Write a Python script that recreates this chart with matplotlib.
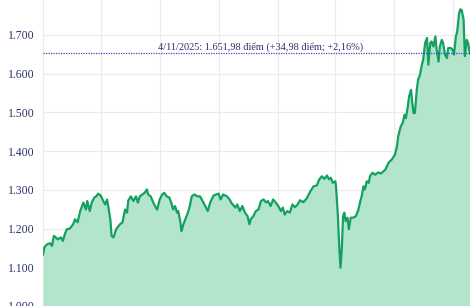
import pandas as pd
import matplotlib
matplotlib.use("Agg")
import matplotlib.pyplot as plt
import matplotlib.dates as mdates

# VN-Index closes (days counted from 1/1/2024)
days = [0, 2, 6, 11, 14, 17, 20, 23, 28, 31, 34, 37, 42, 47, 50, 54, 58, 63, 67, 69,
        73, 76, 80, 83, 86, 90, 94, 97, 100, 105, 107, 110, 114, 120, 124, 128, 131, 133,
        137, 141, 145, 148, 151, 155, 159, 162, 164, 168, 172, 176, 178, 182, 186, 189,
        193, 197, 200, 203, 206, 209, 211, 214, 216, 219, 222, 226, 229, 232, 236, 241,
        245, 249, 253, 257, 261, 266, 270, 274, 277, 281, 287, 291, 294, 300, 303, 307,
        311, 315, 319, 322, 324, 328, 332, 336, 340, 344, 348, 351, 355, 359, 363, 367,
        371, 374, 377, 381, 385, 389, 393, 397, 401, 406, 411, 417, 422, 427, 431, 435,
        439, 443, 446, 449, 452, 456, 457, 460, 462, 464, 466, 468, 470, 472, 475, 477,
        480, 484, 488, 492, 495, 497, 500, 502, 505, 508, 510, 514, 518, 523, 527, 534,
        539, 544, 549, 552, 554, 558, 561, 564, 566, 569, 571, 574, 576, 578, 580, 583,
        585, 588, 591, 593, 596, 599, 601, 604, 606, 609, 612, 614, 617, 619, 622, 624,
        627, 630, 632, 636, 639, 641, 644, 646, 649, 651, 653, 656, 658, 661, 663, 666]
values = [1133, 1151, 1159, 1162, 1155, 1181, 1177, 1172, 1177, 1168, 1185, 1198, 1200,
          1211, 1224, 1216, 1245, 1267, 1249, 1271, 1245, 1267, 1280, 1283, 1290, 1285,
          1271, 1262, 1275, 1224, 1181, 1177, 1198, 1211, 1216, 1249, 1241, 1272, 1283,
          1271, 1283, 1267, 1283, 1288, 1293, 1301, 1288, 1283, 1267, 1254, 1249, 1275,
          1288, 1292, 1283, 1280, 1267, 1249, 1258, 1241, 1245, 1219, 1193, 1211, 1224,
          1241, 1258, 1283, 1288, 1283, 1283, 1271, 1258, 1245, 1268, 1285, 1288, 1290,
          1275, 1288, 1283, 1275, 1266, 1254, 1262, 1245, 1258, 1241, 1232, 1211, 1224,
          1232, 1245, 1249, 1271, 1275, 1267, 1271, 1258, 1275, 1267, 1258, 1245, 1254,
          1236, 1245, 1241, 1262, 1255, 1262, 1273, 1268, 1277, 1296, 1309, 1311, 1327,
          1335, 1328, 1337, 1327, 1331, 1318, 1322, 1309, 1232, 1155, 1099, 1146, 1232,
          1241, 1219, 1228, 1198, 1228, 1228, 1232, 1249, 1271, 1283, 1309, 1301, 1322,
          1318, 1335, 1344, 1339, 1345, 1342, 1352, 1370, 1378, 1391, 1412, 1438, 1464,
          1472, 1494, 1485, 1515, 1541, 1558, 1524, 1498, 1498, 1558, 1584, 1597, 1623,
          1636, 1679, 1692, 1623, 1679, 1683, 1670, 1696, 1661, 1631, 1670, 1687, 1679,
          1649, 1640, 1666, 1666, 1661, 1649, 1696, 1708, 1756, 1766, 1764, 1739, 1645,
          1687, 1679, 1652]

yticks = [1000, 1100, 1200, 1300, 1400, 1500, 1600, 1700]
ref_value = 1651.98
ref_label = "4/11/2025: 1.651,98 điểm (+34,98 điểm; +2,16%)"

dates = pd.Timestamp("2024-01-01") + pd.to_timedelta(days, unit="D")

line_color = "#14a060"
fill_color = "#b3e5cd"
text_color = "#2b3270"

plt.rcParams["font.family"] = ["Liberation Serif", "DejaVu Serif"]

fig = plt.figure(figsize=(4.7, 3.06), dpi=100)
ax = fig.add_axes([43 / 470, 0, 1 - 43 / 470, 1])

ax.fill_between(dates, values, 1000, color=fill_color, lw=0, zorder=1)
ax.plot(dates, values, color=line_color, lw=1.6, zorder=3)

ax.axhline(ref_value, color="#4848b8", lw=0.9, ls=(0, (1, 1)), zorder=4)
ax.text(pd.Timestamp("2024-12-05"), ref_value + 5, ref_label, ha="center", va="bottom",
        fontsize=7.4, color=text_color, zorder=5)

ax.set_xlim(dates[0], dates[-1])
ax.set_ylim(1000, 1790)
ax.set_yticks(yticks)
ax.set_yticklabels([f"{t:,}".replace(",", ".") for t in yticks])
ax.xaxis.set_major_locator(mdates.MonthLocator(bymonth=[1, 4, 7, 10]))
ax.set_xticklabels([])

ax.grid(True, color="#ebebeb", lw=0.8, zorder=0)
ax.set_axisbelow(True)
for s in ax.spines.values():
    s.set_visible(False)
ax.tick_params(axis="both", length=0)
ax.tick_params(axis="y", pad=6, labelsize=8.5, labelcolor=text_color)

fig.savefig("out.png", dpi=100)
